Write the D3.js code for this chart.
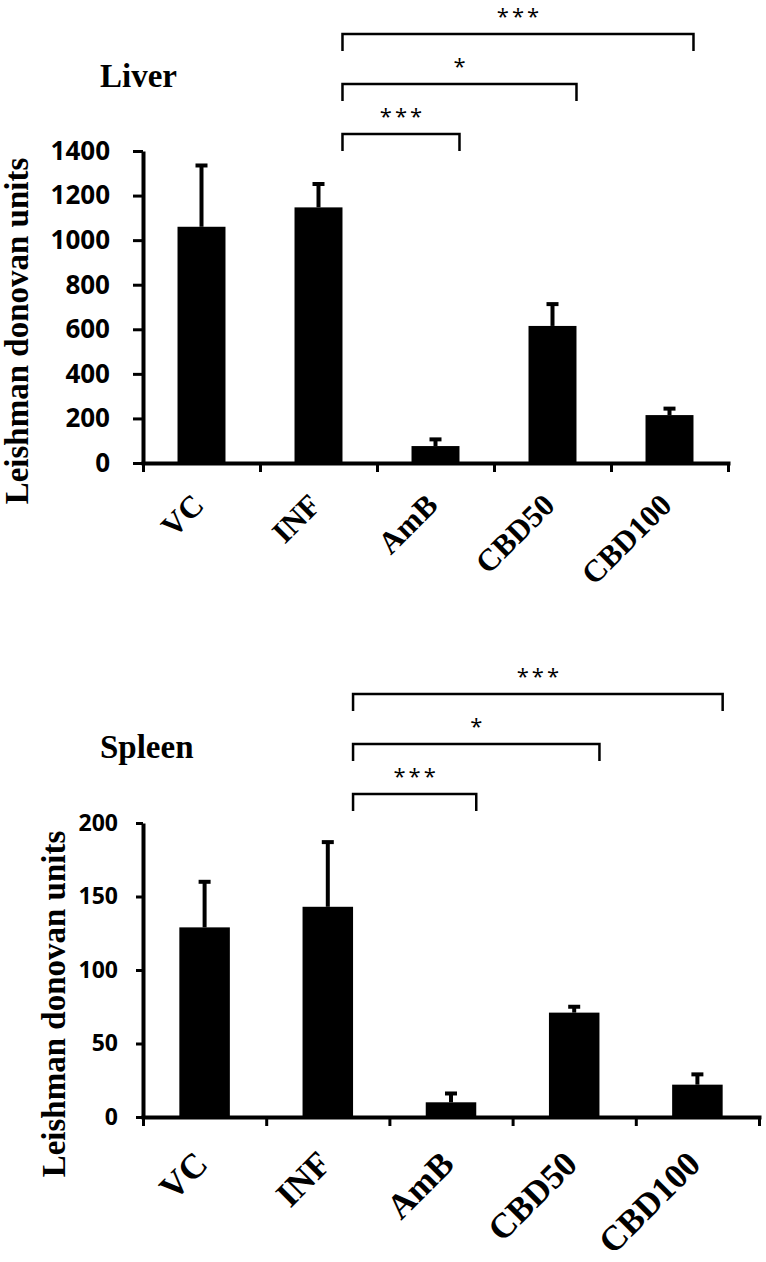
<!DOCTYPE html>
<html>
<head>
<meta charset="utf-8">
<script src="https://cdn.jsdelivr.net/npm/d3@7"></script>
<style>
body{margin:0;background:#fff}
svg{display:block}
</style>
</head>
<body>
<div id="chart"></div>
<script>
const width = 766
const height = 1262

const categories = ["VC","INF","AmB","CBD50","CBD100"]

const liverMean = [1060, 1147, 76, 615, 215]
const liverErr = [275, 105, 30, 98, 29]
const liverTicks = [0,200,400,600,800,1000,1200,1400]

const spleenMean = [129, 143, 10, 71, 22]
const spleenErr = [31, 44, 6, 4, 7]
const spleenTicks = [0,50,100,150,200]

// pairs compared against INF, with their significance stars
const comparisons = [
["INF","CBD100","***"],
["INF","CBD50","*"],
["INF","AmB","***"]
]

const yTitle = "Leishman donovan units"

const panels = [
{ title:"Liver", mean:liverMean, err:liverErr, ticks:liverTicks,
  top:151, bottom:463, left:143, right:728,
  tickFont:26, tickLen:10, labelEnd:110,
  titleY:87, axisTitleX:28, axisTitleY:331,
  labelFont:31, labelDx:4, labelDy:44, bracketY:34 },
{ title:"Spleen", mean:spleenMean, err:spleenErr, ticks:spleenTicks,
  top:823, bottom:1117, left:143, right:759,
  tickFont:23, tickLen:7, labelEnd:118,
  titleY:758, axisTitleX:65, axisTitleY:1004,
  labelFont:35, labelDx:5, labelDy:49, bracketY:694 }
]

const svg = d3.select("#chart")
.append("svg")
.attr("width",width)
.attr("height",height)

const serif = "'Liberation Serif','Times New Roman',serif"
const sans = "'Open Sans','Liberation Sans',sans-serif"

panels.forEach(p=>{

const g = svg.append("g")

const y = d3.scaleLinear()
.domain([0, d3.max(p.ticks)])
.range([p.bottom, p.top])

const x = d3.scaleBand()
.domain(categories)
.range([p.left, p.right])
.paddingInner(0.59)
.paddingOuter(0.295)

const xEdge = d3.scaleLinear()
.domain([0, categories.length])
.range([p.left, p.right])

const rows = categories.map((c,i)=>({cat:c, mean:p.mean[i], err:p.err[i]}))

// bars
g.selectAll("rect.bar")
.data(rows)
.enter()
.append("rect")
.attr("class","bar")
.attr("x",d=>x(d.cat))
.attr("y",d=>y(d.mean))
.attr("width",x.bandwidth())
.attr("height",d=>y(0)-y(d.mean))
.attr("fill","#000")

// error bars (upper only)
const eb = g.selectAll("g.err")
.data(rows)
.enter()
.append("g")
.attr("class","err")
.attr("stroke","#000")
.attr("stroke-width",4)

eb.append("line")
.attr("x1",d=>x(d.cat)+x.bandwidth()/2)
.attr("x2",d=>x(d.cat)+x.bandwidth()/2)
.attr("y1",d=>y(d.mean))
.attr("y2",d=>y(d.mean+d.err))

eb.append("line")
.attr("x1",d=>x(d.cat)+x.bandwidth()/2-6)
.attr("x2",d=>x(d.cat)+x.bandwidth()/2+6)
.attr("y1",d=>y(d.mean+d.err))
.attr("y2",d=>y(d.mean+d.err))

// y axis
const yAxis = g.append("g")
.attr("transform",`translate(${p.left},0)`)
.call(d3.axisLeft(y)
  .tickValues(p.ticks)
  .tickFormat(d3.format("d"))
  .tickSize(p.tickLen)
  .tickSizeOuter(0)
  .tickPadding(p.left-p.tickLen-p.labelEnd))

yAxis.select(".domain").attr("stroke-width",4)
yAxis.selectAll(".tick line").attr("stroke-width",3)
yAxis.selectAll(".tick text")
.attr("font-family",sans)
.attr("font-weight",700)
.attr("font-size",p.tickFont)
.attr("fill","#000")

// x axis, ticks on the band edges
const xAxis = g.append("g")
.attr("transform",`translate(0,${p.bottom})`)
.call(d3.axisBottom(xEdge)
  .tickValues(d3.range(categories.length+1))
  .tickSize(9)
  .tickSizeOuter(0)
  .tickFormat(""))

xAxis.select(".domain").attr("stroke-width",4).attr("stroke-linecap","square")
xAxis.selectAll(".tick line").attr("stroke-width",3)

// category labels
g.selectAll("text.cat")
.data(categories)
.enter()
.append("text")
.attr("class","cat")
.attr("transform",d=>`translate(${x(d)+x.bandwidth()/2+p.labelDx},${p.bottom+p.labelDy}) rotate(-45)`)
.attr("text-anchor","end")
.attr("font-family",serif)
.attr("font-weight",700)
.attr("font-size",p.labelFont)
.text(d=>d)

// axis title
g.append("text")
.attr("transform",`translate(${p.axisTitleX},${p.axisTitleY}) rotate(-90)`)
.attr("text-anchor","middle")
.attr("font-family",serif)
.attr("font-weight",700)
.attr("font-size",33)
.text(yTitle)

// panel title
g.append("text")
.attr("x",100)
.attr("y",p.titleY)
.attr("font-family",serif)
.attr("font-weight",700)
.attr("font-size",33)
.text(p.title)

// significance brackets
comparisons.forEach((c,i)=>{
  const by = p.bracketY + i*50
  const x1 = x(c[0])+x.bandwidth()
  const x2 = x(c[1])+x.bandwidth()
  g.append("path")
  .attr("d",`M${x1},${by+17}V${by}H${x2}V${by+17}`)
  .attr("fill","none")
  .attr("stroke","#000")
  .attr("stroke-width",2.5)
  g.append("text")
  .attr("x",(x1+x2)/2+1.5)
  .attr("y",by-10)
  .attr("text-anchor","middle")
  .attr("font-family",sans)
  .attr("font-size",22)
  .attr("letter-spacing",3)
  .text(c[2])
})

})
</script>
</body>
</html>
